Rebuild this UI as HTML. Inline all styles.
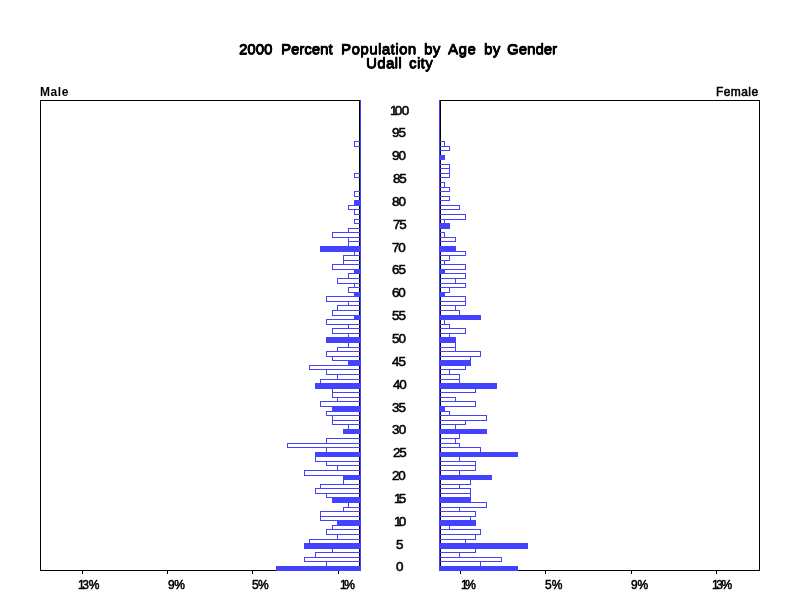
<!DOCTYPE html>
<html><head><meta charset="utf-8"><title>2000 Percent Population by Age by Gender - Udall city</title>
<style>
html,body{margin:0;padding:0;background:#fff;}
body{width:800px;height:600px;position:relative;overflow:hidden;font-family:"Liberation Sans",sans-serif;color:#000;}
.t{position:absolute;white-space:nowrap;line-height:1;will-change:transform;}
.c{text-align:center;}
</style></head><body>
<svg width="800" height="600" viewBox="0 0 800 600" shape-rendering="crispEdges" style="position:absolute;left:0;top:0">
<g fill="none" stroke="#000" stroke-width="1">
<rect x="40.5" y="100.5" width="319" height="470"/>
<rect x="440.5" y="100.5" width="319" height="470"/>
<line x1="82.5" y1="571" x2="82.5" y2="574"/>
<line x1="167.5" y1="571" x2="167.5" y2="574"/>
<line x1="252.5" y1="571" x2="252.5" y2="574"/>
<line x1="338.5" y1="571" x2="338.5" y2="574"/>
<line x1="460.5" y1="571" x2="460.5" y2="574"/>
<line x1="545.5" y1="571" x2="545.5" y2="574"/>
<line x1="631.5" y1="571" x2="631.5" y2="574"/>
<line x1="716.5" y1="571" x2="716.5" y2="574"/>
</g>
<g stroke="#4242ff" stroke-width="1">
<line x1="360.5" y1="100" x2="360.5" y2="571"/>
<line x1="439.5" y1="100" x2="439.5" y2="571"/>
<rect x="276.5" y="566.5" width="84" height="4" fill="#4242ff"/>
<rect x="439.5" y="566.5" width="78" height="4" fill="#4242ff"/>
<rect x="326.5" y="561.5" width="34" height="5" fill="none"/>
<rect x="439.5" y="561.5" width="41" height="5" fill="none"/>
<rect x="304.5" y="557.5" width="56" height="4" fill="none"/>
<rect x="439.5" y="557.5" width="62" height="4" fill="none"/>
<rect x="315.5" y="552.5" width="45" height="5" fill="none"/>
<rect x="439.5" y="552.5" width="20" height="5" fill="none"/>
<rect x="332.5" y="548.5" width="28" height="4" fill="none"/>
<rect x="439.5" y="548.5" width="36" height="4" fill="none"/>
<rect x="304.5" y="543.5" width="56" height="5" fill="#4242ff"/>
<rect x="439.5" y="543.5" width="88" height="5" fill="#4242ff"/>
<rect x="309.5" y="539.5" width="51" height="4" fill="none"/>
<rect x="439.5" y="539.5" width="26" height="4" fill="none"/>
<rect x="337.5" y="534.5" width="23" height="5" fill="none"/>
<rect x="439.5" y="534.5" width="36" height="5" fill="none"/>
<rect x="326.5" y="529.5" width="34" height="5" fill="none"/>
<rect x="439.5" y="529.5" width="41" height="5" fill="none"/>
<rect x="332.5" y="525.5" width="28" height="4" fill="none"/>
<rect x="439.5" y="525.5" width="10" height="4" fill="none"/>
<rect x="337.5" y="520.5" width="23" height="5" fill="#4242ff"/>
<rect x="439.5" y="520.5" width="36" height="5" fill="#4242ff"/>
<rect x="320.5" y="516.5" width="40" height="4" fill="none"/>
<rect x="439.5" y="516.5" width="31" height="4" fill="none"/>
<rect x="320.5" y="511.5" width="40" height="5" fill="none"/>
<rect x="439.5" y="511.5" width="36" height="5" fill="none"/>
<rect x="343.5" y="507.5" width="17" height="4" fill="none"/>
<rect x="439.5" y="507.5" width="20" height="4" fill="none"/>
<rect x="348.5" y="502.5" width="12" height="5" fill="none"/>
<rect x="439.5" y="502.5" width="47" height="5" fill="none"/>
<rect x="332.5" y="497.5" width="28" height="5" fill="#4242ff"/>
<rect x="439.5" y="497.5" width="31" height="5" fill="#4242ff"/>
<rect x="326.5" y="493.5" width="34" height="4" fill="none"/>
<rect x="439.5" y="493.5" width="31" height="4" fill="none"/>
<rect x="315.5" y="488.5" width="45" height="5" fill="none"/>
<rect x="439.5" y="488.5" width="31" height="5" fill="none"/>
<rect x="320.5" y="484.5" width="40" height="4" fill="none"/>
<rect x="439.5" y="484.5" width="20" height="4" fill="none"/>
<rect x="343.5" y="479.5" width="17" height="5" fill="none"/>
<rect x="439.5" y="479.5" width="31" height="5" fill="none"/>
<rect x="343.5" y="475.5" width="17" height="4" fill="#4242ff"/>
<rect x="439.5" y="475.5" width="52" height="4" fill="#4242ff"/>
<rect x="304.5" y="470.5" width="56" height="5" fill="none"/>
<rect x="439.5" y="470.5" width="20" height="5" fill="none"/>
<rect x="337.5" y="465.5" width="23" height="5" fill="none"/>
<rect x="439.5" y="465.5" width="36" height="5" fill="none"/>
<rect x="326.5" y="461.5" width="34" height="4" fill="none"/>
<rect x="439.5" y="461.5" width="36" height="4" fill="none"/>
<rect x="315.5" y="456.5" width="45" height="5" fill="none"/>
<rect x="439.5" y="456.5" width="20" height="5" fill="none"/>
<rect x="315.5" y="452.5" width="45" height="4" fill="#4242ff"/>
<rect x="439.5" y="452.5" width="78" height="4" fill="#4242ff"/>
<rect x="326.5" y="447.5" width="34" height="5" fill="none"/>
<rect x="439.5" y="447.5" width="41" height="5" fill="none"/>
<rect x="287.5" y="443.5" width="73" height="4" fill="none"/>
<rect x="439.5" y="443.5" width="20" height="4" fill="none"/>
<rect x="326.5" y="438.5" width="34" height="5" fill="none"/>
<rect x="439.5" y="438.5" width="16" height="5" fill="none"/>
<rect x="439.5" y="433.5" width="20" height="5" fill="none"/>
<rect x="343.5" y="429.5" width="17" height="4" fill="#4242ff"/>
<rect x="439.5" y="429.5" width="47" height="4" fill="#4242ff"/>
<rect x="348.5" y="424.5" width="12" height="5" fill="none"/>
<rect x="439.5" y="424.5" width="16" height="5" fill="none"/>
<rect x="332.5" y="420.5" width="28" height="4" fill="none"/>
<rect x="439.5" y="420.5" width="26" height="4" fill="none"/>
<rect x="332.5" y="415.5" width="28" height="5" fill="none"/>
<rect x="439.5" y="415.5" width="47" height="5" fill="none"/>
<rect x="326.5" y="411.5" width="34" height="4" fill="none"/>
<rect x="439.5" y="411.5" width="10" height="4" fill="none"/>
<rect x="332.5" y="406.5" width="28" height="5" fill="#4242ff"/>
<rect x="439.5" y="406.5" width="5" height="5" fill="#4242ff"/>
<rect x="320.5" y="401.5" width="40" height="5" fill="none"/>
<rect x="439.5" y="401.5" width="36" height="5" fill="none"/>
<rect x="337.5" y="397.5" width="23" height="4" fill="none"/>
<rect x="439.5" y="397.5" width="16" height="4" fill="none"/>
<rect x="332.5" y="392.5" width="28" height="5" fill="none"/>
<rect x="332.5" y="388.5" width="28" height="4" fill="none"/>
<rect x="439.5" y="388.5" width="36" height="4" fill="none"/>
<rect x="315.5" y="383.5" width="45" height="5" fill="#4242ff"/>
<rect x="439.5" y="383.5" width="57" height="5" fill="#4242ff"/>
<rect x="320.5" y="379.5" width="40" height="4" fill="none"/>
<rect x="439.5" y="379.5" width="20" height="4" fill="none"/>
<rect x="337.5" y="374.5" width="23" height="5" fill="none"/>
<rect x="439.5" y="374.5" width="20" height="5" fill="none"/>
<rect x="326.5" y="369.5" width="34" height="5" fill="none"/>
<rect x="439.5" y="369.5" width="10" height="5" fill="none"/>
<rect x="309.5" y="365.5" width="51" height="4" fill="none"/>
<rect x="439.5" y="365.5" width="26" height="4" fill="none"/>
<rect x="348.5" y="360.5" width="12" height="5" fill="#4242ff"/>
<rect x="439.5" y="360.5" width="31" height="5" fill="#4242ff"/>
<rect x="332.5" y="356.5" width="28" height="4" fill="none"/>
<rect x="439.5" y="356.5" width="31" height="4" fill="none"/>
<rect x="326.5" y="351.5" width="34" height="5" fill="none"/>
<rect x="439.5" y="351.5" width="41" height="5" fill="none"/>
<rect x="337.5" y="347.5" width="23" height="4" fill="none"/>
<rect x="439.5" y="347.5" width="16" height="4" fill="none"/>
<rect x="348.5" y="342.5" width="12" height="5" fill="none"/>
<rect x="439.5" y="342.5" width="16" height="5" fill="none"/>
<rect x="326.5" y="337.5" width="34" height="5" fill="#4242ff"/>
<rect x="439.5" y="337.5" width="16" height="5" fill="#4242ff"/>
<rect x="348.5" y="333.5" width="12" height="4" fill="none"/>
<rect x="439.5" y="333.5" width="10" height="4" fill="none"/>
<rect x="332.5" y="328.5" width="28" height="5" fill="none"/>
<rect x="439.5" y="328.5" width="26" height="5" fill="none"/>
<rect x="348.5" y="324.5" width="12" height="4" fill="none"/>
<rect x="439.5" y="324.5" width="10" height="4" fill="none"/>
<rect x="326.5" y="319.5" width="34" height="5" fill="none"/>
<rect x="439.5" y="319.5" width="5" height="5" fill="none"/>
<rect x="354.5" y="315.5" width="6" height="4" fill="#4242ff"/>
<rect x="439.5" y="315.5" width="41" height="4" fill="#4242ff"/>
<rect x="332.5" y="310.5" width="28" height="5" fill="none"/>
<rect x="439.5" y="310.5" width="20" height="5" fill="none"/>
<rect x="337.5" y="305.5" width="23" height="5" fill="none"/>
<rect x="439.5" y="305.5" width="16" height="5" fill="none"/>
<rect x="348.5" y="301.5" width="12" height="4" fill="none"/>
<rect x="439.5" y="301.5" width="26" height="4" fill="none"/>
<rect x="326.5" y="296.5" width="34" height="5" fill="none"/>
<rect x="439.5" y="296.5" width="26" height="5" fill="none"/>
<rect x="354.5" y="292.5" width="6" height="4" fill="#4242ff"/>
<rect x="439.5" y="292.5" width="5" height="4" fill="#4242ff"/>
<rect x="348.5" y="287.5" width="12" height="5" fill="none"/>
<rect x="439.5" y="287.5" width="10" height="5" fill="none"/>
<rect x="354.5" y="283.5" width="6" height="4" fill="none"/>
<rect x="439.5" y="283.5" width="26" height="4" fill="none"/>
<rect x="337.5" y="278.5" width="23" height="5" fill="none"/>
<rect x="439.5" y="278.5" width="16" height="5" fill="none"/>
<rect x="348.5" y="273.5" width="12" height="5" fill="none"/>
<rect x="439.5" y="273.5" width="26" height="5" fill="none"/>
<rect x="354.5" y="269.5" width="6" height="4" fill="#4242ff"/>
<rect x="439.5" y="269.5" width="5" height="4" fill="#4242ff"/>
<rect x="332.5" y="264.5" width="28" height="5" fill="none"/>
<rect x="439.5" y="264.5" width="26" height="5" fill="none"/>
<rect x="343.5" y="260.5" width="17" height="4" fill="none"/>
<rect x="439.5" y="260.5" width="5" height="4" fill="none"/>
<rect x="343.5" y="255.5" width="17" height="5" fill="none"/>
<rect x="439.5" y="255.5" width="10" height="5" fill="none"/>
<rect x="354.5" y="251.5" width="6" height="4" fill="none"/>
<rect x="439.5" y="251.5" width="26" height="4" fill="none"/>
<rect x="320.5" y="246.5" width="40" height="5" fill="#4242ff"/>
<rect x="439.5" y="246.5" width="16" height="5" fill="#4242ff"/>
<rect x="348.5" y="241.5" width="12" height="5" fill="none"/>
<rect x="348.5" y="237.5" width="12" height="4" fill="none"/>
<rect x="439.5" y="237.5" width="16" height="4" fill="none"/>
<rect x="332.5" y="232.5" width="28" height="5" fill="none"/>
<rect x="439.5" y="232.5" width="5" height="5" fill="none"/>
<rect x="348.5" y="228.5" width="12" height="4" fill="none"/>
<rect x="439.5" y="223.5" width="10" height="5" fill="#4242ff"/>
<rect x="354.5" y="219.5" width="6" height="4" fill="none"/>
<rect x="439.5" y="219.5" width="5" height="4" fill="none"/>
<rect x="439.5" y="214.5" width="26" height="5" fill="none"/>
<rect x="354.5" y="209.5" width="6" height="5" fill="none"/>
<rect x="348.5" y="205.5" width="12" height="4" fill="none"/>
<rect x="439.5" y="205.5" width="20" height="4" fill="none"/>
<rect x="354.5" y="200.5" width="6" height="5" fill="#4242ff"/>
<rect x="439.5" y="196.5" width="10" height="4" fill="none"/>
<rect x="354.5" y="191.5" width="6" height="5" fill="none"/>
<rect x="439.5" y="187.5" width="10" height="4" fill="none"/>
<rect x="439.5" y="182.5" width="5" height="5" fill="none"/>
<rect x="354.5" y="173.5" width="6" height="4" fill="none"/>
<rect x="439.5" y="173.5" width="10" height="4" fill="none"/>
<rect x="439.5" y="168.5" width="10" height="5" fill="none"/>
<rect x="439.5" y="164.5" width="10" height="4" fill="none"/>
<rect x="439.5" y="155.5" width="5" height="4" fill="#4242ff"/>
<rect x="439.5" y="146.5" width="10" height="4" fill="none"/>
<rect x="354.5" y="141.5" width="6" height="5" fill="none"/>
<rect x="439.5" y="141.5" width="5" height="5" fill="none"/>
</g>
</svg>
<div class="t" style="left:238.68px;top:41.0px;font-size:15px;letter-spacing:-0.01px;-webkit-text-stroke:0.6px #000;text-shadow:0 0.5px 0 #000,0.4px 0 0 #000;">2000</div>
<div class="t" style="left:281.25px;top:41.0px;font-size:15px;letter-spacing:-0.02px;-webkit-text-stroke:0.6px #000;text-shadow:0 0.5px 0 #000,0.4px 0 0 #000;">Percent</div>
<div class="t" style="left:341.37px;top:41.0px;font-size:15px;letter-spacing:0.48px;-webkit-text-stroke:0.6px #000;text-shadow:0 0.5px 0 #000,0.4px 0 0 #000;">Population</div>
<div class="t" style="left:424.02px;top:41.0px;font-size:15px;letter-spacing:0.4px;-webkit-text-stroke:0.6px #000;text-shadow:0 0.5px 0 #000,0.4px 0 0 #000;">by</div>
<div class="t" style="left:448.13px;top:41.0px;font-size:15px;letter-spacing:0.53px;-webkit-text-stroke:0.6px #000;text-shadow:0 0.5px 0 #000,0.4px 0 0 #000;">Age</div>
<div class="t" style="left:483.5px;top:41.0px;font-size:15px;letter-spacing:0.45px;-webkit-text-stroke:0.6px #000;text-shadow:0 0.5px 0 #000,0.4px 0 0 #000;">by</div>
<div class="t" style="left:507.28px;top:41.0px;font-size:15px;letter-spacing:0.01px;-webkit-text-stroke:0.6px #000;text-shadow:0 0.5px 0 #000,0.4px 0 0 #000;">Gender</div>
<div class="t" style="left:365.93px;top:55.0px;font-size:15px;letter-spacing:0.36px;-webkit-text-stroke:0.6px #000;text-shadow:0 0.5px 0 #000,0.4px 0 0 #000;">Udall</div>
<div class="t" style="left:408.61px;top:55.0px;font-size:15px;letter-spacing:0.39px;-webkit-text-stroke:0.6px #000;text-shadow:0 0.5px 0 #000,0.4px 0 0 #000;">city</div>
<div class="t" style="left:40.14px;top:86.0px;font-size:12px;letter-spacing:0.58px;font-weight:bold;">Male</div>
<div class="t" style="left:716.1px;top:86.0px;font-size:12px;letter-spacing:0.41px;-webkit-text-stroke:0.55px #000;">Female</div>
<div class="t" style="left:395.77px;top:561.0px;font-size:12px;-webkit-text-stroke:0.5px #000;transform:scaleX(1.12);transform-origin:0 0;">0</div>
<div class="t" style="left:395.72px;top:539.0px;font-size:12px;-webkit-text-stroke:0.5px #000;transform:scaleX(1.12);transform-origin:0 0;">5</div>
<div class="t" style="left:394.26px;top:516.0px;font-size:12px;-webkit-text-stroke:0.5px #000;transform:scaleX(1.12);transform-origin:0 0;"><span style="letter-spacing:-2.4px">1</span>0</div>
<div class="t" style="left:394.28px;top:493.0px;font-size:12px;-webkit-text-stroke:0.5px #000;transform:scaleX(1.12);transform-origin:0 0;"><span style="letter-spacing:-2.4px">1</span>5</div>
<div class="t" style="left:392.43px;top:470.0px;font-size:12px;letter-spacing:-1.07px;-webkit-text-stroke:0.5px #000;transform:scaleX(1.12);transform-origin:0 0;">20</div>
<div class="t" style="left:392.5px;top:447.0px;font-size:12px;letter-spacing:-1.0px;-webkit-text-stroke:0.5px #000;transform:scaleX(1.12);transform-origin:0 0;">25</div>
<div class="t" style="left:392.21px;top:424.0px;font-size:12px;letter-spacing:-0.75px;-webkit-text-stroke:0.5px #000;transform:scaleX(1.12);transform-origin:0 0;">30</div>
<div class="t" style="left:392.29px;top:402.0px;font-size:12px;letter-spacing:-0.77px;-webkit-text-stroke:0.5px #000;transform:scaleX(1.12);transform-origin:0 0;">35</div>
<div class="t" style="left:392.53px;top:379.0px;font-size:12px;letter-spacing:-1.01px;-webkit-text-stroke:0.5px #000;transform:scaleX(1.12);transform-origin:0 0;">40</div>
<div class="t" style="left:392.45px;top:356.0px;font-size:12px;letter-spacing:-0.93px;-webkit-text-stroke:0.5px #000;transform:scaleX(1.12);transform-origin:0 0;">45</div>
<div class="t" style="left:392.25px;top:333.0px;font-size:12px;letter-spacing:-0.84px;-webkit-text-stroke:0.5px #000;transform:scaleX(1.12);transform-origin:0 0;">50</div>
<div class="t" style="left:392.28px;top:310.0px;font-size:12px;letter-spacing:-0.78px;-webkit-text-stroke:0.5px #000;transform:scaleX(1.12);transform-origin:0 0;">55</div>
<div class="t" style="left:392.42px;top:287.0px;font-size:12px;letter-spacing:-0.99px;-webkit-text-stroke:0.5px #000;transform:scaleX(1.12);transform-origin:0 0;">60</div>
<div class="t" style="left:392.34px;top:264.0px;font-size:12px;letter-spacing:-0.92px;-webkit-text-stroke:0.5px #000;transform:scaleX(1.12);transform-origin:0 0;">65</div>
<div class="t" style="left:392.43px;top:242.0px;font-size:12px;letter-spacing:-1.1px;-webkit-text-stroke:0.5px #000;transform:scaleX(1.12);transform-origin:0 0;">70</div>
<div class="t" style="left:392.5px;top:219.0px;font-size:12px;letter-spacing:-1.03px;-webkit-text-stroke:0.5px #000;transform:scaleX(1.12);transform-origin:0 0;">75</div>
<div class="t" style="left:392.34px;top:196.0px;font-size:12px;letter-spacing:-0.94px;-webkit-text-stroke:0.5px #000;transform:scaleX(1.12);transform-origin:0 0;">80</div>
<div class="t" style="left:392.51px;top:173.0px;font-size:12px;letter-spacing:-1.06px;-webkit-text-stroke:0.5px #000;transform:scaleX(1.12);transform-origin:0 0;">85</div>
<div class="t" style="left:392.32px;top:150.0px;font-size:12px;letter-spacing:-0.98px;-webkit-text-stroke:0.5px #000;transform:scaleX(1.12);transform-origin:0 0;">90</div>
<div class="t" style="left:392.34px;top:127.0px;font-size:12px;letter-spacing:-0.91px;-webkit-text-stroke:0.5px #000;transform:scaleX(1.12);transform-origin:0 0;">95</div>
<div class="t" style="left:390.16px;top:105.0px;font-size:12px;letter-spacing:-0.53px;-webkit-text-stroke:0.5px #000;transform:scaleX(1.12);transform-origin:0 0;"><span style="letter-spacing:-2.4px">1</span>00</div>
<div class="t" style="left:77.74px;top:579.0px;font-size:12px;letter-spacing:-0.29px;-webkit-text-stroke:0.5px #000;"><span style="letter-spacing:-2.4px">1</span>3%</div>
<div class="t" style="left:167.88px;top:579.0px;font-size:12px;letter-spacing:-0.4px;-webkit-text-stroke:0.5px #000;">9%</div>
<div class="t" style="left:252.35px;top:579.0px;font-size:12px;letter-spacing:-0.61px;-webkit-text-stroke:0.5px #000;">5%</div>
<div class="t" style="left:339.76px;top:579.0px;font-size:12px;-webkit-text-stroke:0.5px #000;"><span style="letter-spacing:-2.4px">1</span>%</div>
<div class="t" style="left:461.46px;top:579.0px;font-size:12px;-webkit-text-stroke:0.5px #000;"><span style="letter-spacing:-2.4px">1</span>%</div>
<div class="t" style="left:545.45px;top:579.0px;font-size:12px;letter-spacing:0.06px;-webkit-text-stroke:0.5px #000;">5%</div>
<div class="t" style="left:630.71px;top:579.0px;font-size:12px;letter-spacing:-0.05px;-webkit-text-stroke:0.5px #000;">9%</div>
<div class="t" style="left:711.76px;top:579.0px;font-size:12px;letter-spacing:-1.53px;-webkit-text-stroke:0.5px #000;"><span style="letter-spacing:-2.4px">1</span>3%</div>
</body></html>
